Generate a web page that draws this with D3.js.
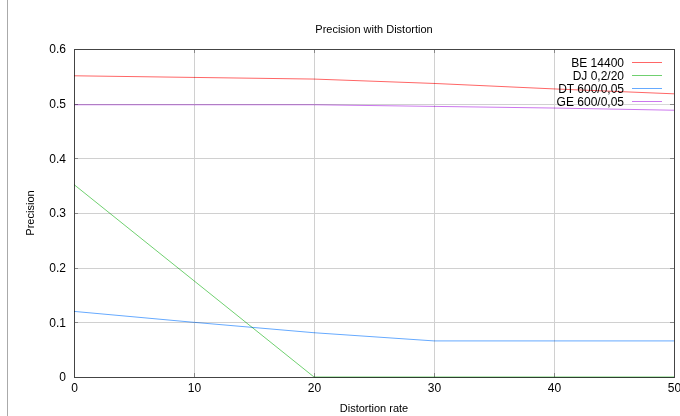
<!DOCTYPE html>
<html><head><meta charset="utf-8">
<script src="https://cdn.jsdelivr.net/npm/d3@7"></script>
<style>body{margin:0;background:#fff}svg{display:block;font-family:"Liberation Sans",Arial,Helvetica,sans-serif}</style>
</head><body>
<svg id="c" width="680" height="416"></svg>
<script>
const xValues = [0, 10, 20, 30, 40, 50];
const seriesNames = ["BE 14400", "DJ 0,2/20", "DT 600/0,05", "GE 600/0,05"];
const beValues = [0.551, 0.548, 0.545, 0.537, 0.527, 0.518];
const djValues = [0.352, 0.176, 0, 0, 0, 0];
const dtValues = [0.120, 0.100, 0.081, 0.066, 0.066, 0.066];
const geValues = [0.498, 0.498, 0.498, 0.495, 0.492, 0.488];
const seriesColors = ["#ff6666", "#70d070", "#66aaff", "#cc77ee"];
const xTicks = [0, 10, 20, 30, 40, 50];
const yTicks = [0, 0.1, 0.2, 0.3, 0.4, 0.5, 0.6];

const svg = d3.select("#c");
const m = {l: 74, r: 674, t: 49, b: 377};
const x = d3.scaleLinear().domain([0, 50]).range([m.l, m.r]);
const y = d3.scaleLinear().domain([0, 0.6]).range([m.b, m.t]);

// left decorative line
svg.append("line").attr("x1", 7.5).attr("x2", 7.5).attr("y1", 0).attr("y2", 416)
  .attr("stroke", "#aaa").attr("stroke-width", 1);

// grid
const g = svg.append("g");
g.selectAll(".vg").data(xTicks.slice(1, -1)).join("line")
  .attr("x1", d => Math.round(x(d)) + 0.5).attr("x2", d => Math.round(x(d)) + 0.5)
  .attr("y1", m.t).attr("y2", m.b).attr("stroke", "#d0d0d0");
g.selectAll(".hg").data(yTicks.slice(1, -1)).join("line")
  .attr("x1", m.l).attr("x2", m.r)
  .attr("y1", d => Math.round(y(d)) + 0.5).attr("y2", d => Math.round(y(d)) + 0.5)
  .attr("stroke", "#d0d0d0");

// legend background (opaque key)
svg.append("rect").attr("x", x(40) + 1.5).attr("y", m.t + 1).attr("width", m.r - x(40) - 2)
  .attr("height", y(0.5) - m.t - 0.5).attr("fill", "#fff");

// axes with tick labels
const xAxis = d3.axisBottom(x).tickValues(xTicks).tickSize(0).tickPadding(6).tickFormat(d3.format("d"));
const yAxis = d3.axisLeft(y).tickValues(yTicks).tickSize(0).tickPadding(8).tickFormat(d => d === 0 ? "0" : d3.format(".1f")(d));
const gx = svg.append("g").attr("transform", `translate(0,${m.b})`).call(xAxis);
const gy = svg.append("g").attr("transform", `translate(${m.l},0)`).call(yAxis);
[gx, gy].forEach(a => { a.select(".domain").remove(); a.selectAll("text").attr("font-size", 12).attr("fill", "#000").attr("font-family", "Liberation Sans, Arial, sans-serif"); });

// small tick marks inside frame
svg.append("g").selectAll("line").data(yTicks).join("line")
  .attr("x1", m.l).attr("x2", m.l + 4).attr("y1", d => Math.round(y(d)) + 0.5).attr("y2", d => Math.round(y(d)) + 0.5).attr("stroke", "#888");
svg.append("g").selectAll("line").data(yTicks).join("line")
  .attr("x1", m.r - 4).attr("x2", m.r).attr("y1", d => Math.round(y(d)) + 0.5).attr("y2", d => Math.round(y(d)) + 0.5).attr("stroke", "#888");
svg.append("g").selectAll("line").data(xTicks).join("line")
  .attr("x1", d => Math.round(x(d)) + 0.5).attr("x2", d => Math.round(x(d)) + 0.5).attr("y1", m.b - 4).attr("y2", m.b).attr("stroke", "#888");
svg.append("g").selectAll("line").data(xTicks).join("line")
  .attr("x1", d => Math.round(x(d)) + 0.5).attr("x2", d => Math.round(x(d)) + 0.5).attr("y1", m.t).attr("y2", m.t + 4).attr("stroke", "#888");

// frame
svg.append("rect").attr("x", m.l + 0.5).attr("y", m.t + 0.5).attr("width", m.r - m.l).attr("height", m.b - m.t)
  .attr("fill", "none").attr("stroke", "#444");

// series
const allSeries = [beValues, djValues, dtValues, geValues];
const line = d3.line().x((d, i) => x(xValues[i])).y(d => y(d));
allSeries.forEach((vals, k) => {
  svg.append("path").datum(vals).attr("d", line).attr("fill", "none")
    .attr("stroke", seriesColors[k]).attr("stroke-width", 1)
    .style("mix-blend-mode", "multiply");
});

// legend
const lg = svg.append("g");
seriesNames.forEach((name, i) => {
  const yy = 62 + i * 13;
  lg.append("text").attr("x", 624).attr("y", yy + 4.5).attr("text-anchor", "end")
    .attr("font-size", 12).attr("fill", "#000").text(name);
  lg.append("line").attr("x1", 632).attr("x2", 662).attr("y1", yy + 0.5).attr("y2", yy + 0.5)
    .attr("stroke", seriesColors[i]).attr("stroke-width", 1);
});

// titles
svg.append("text").attr("x", (m.l + m.r) / 2).attr("y", 33).attr("text-anchor", "middle")
  .attr("font-size", 11).attr("fill", "#000").text("Precision with Distortion");
svg.append("text").attr("x", (m.l + m.r) / 2).attr("y", 412).attr("text-anchor", "middle")
  .attr("font-size", 11).attr("fill", "#000").text("Distortion rate");
svg.append("text").attr("transform", `translate(34,${(m.t + m.b) / 2}) rotate(-90)`).attr("text-anchor", "middle")
  .attr("font-size", 11).attr("fill", "#000").text("Precision");
</script>
</body></html>
